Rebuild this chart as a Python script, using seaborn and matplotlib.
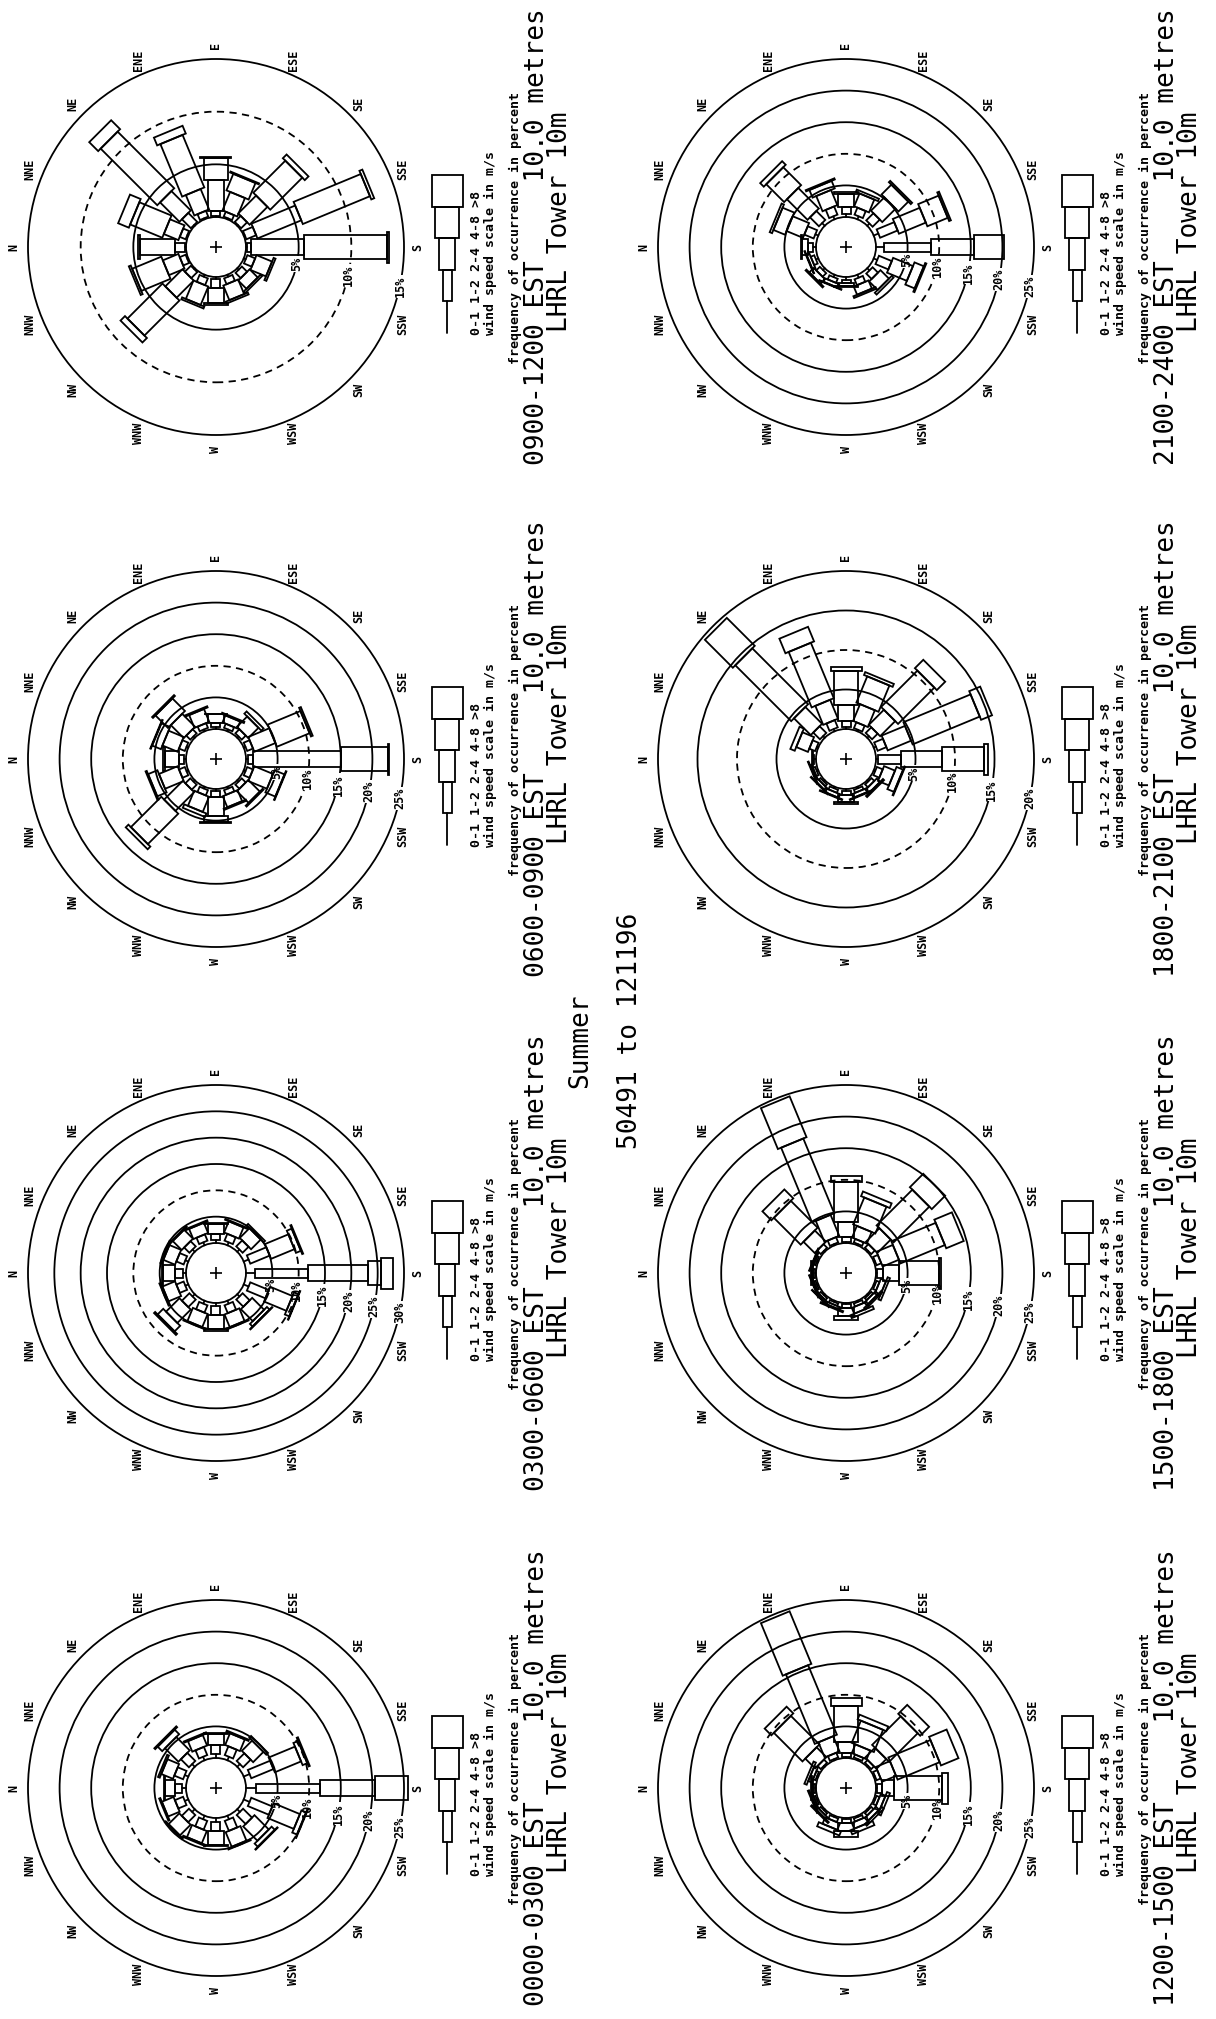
import numpy as np
import matplotlib
matplotlib.use("Agg")
import matplotlib.pyplot as plt
import seaborn as sns
from matplotlib.patches import Rectangle, Circle
from matplotlib.transforms import Affine2D

# ---- data -------------------------------------------------------------
DIRECTIONS = ["N", "NNE", "NE", "ENE", "E", "ESE", "SE", "SSE",
              "S", "SSW", "SW", "WSW", "W", "WNW", "NW", "NNW"]
BEARINGS = [0.0, 22.5, 45.0, 67.5, 90.0, 112.5, 135.0, 157.5,
            180.0, 202.5, 225.0, 247.5, 270.0, 292.5, 315.0, 337.5]
SPEED_CLASSES = ["0-1", "1-2", "2-4", "4-8", ">8"]

# frequency of occurrence (%) per direction, one row per speed class (m/s)
F_0000_0300 = [
    [0.6, 0.6, 0.6, 0.6, 0.6, 0.6, 0.6, 1.0, 1.6, 1.0, 0.6, 0.6, 0.6, 0.6, 0.6, 0.6],
    [1.2, 1.5, 1.8, 1.4, 1.4, 1.5, 1.7, 3.8, 10.1, 3.6, 2.0, 1.7, 1.5, 1.5, 1.6, 1.4],
    [1.5, 2.0, 3.0, 1.8, 1.8, 2.0, 2.3, 4.5, 8.7, 4.5, 3.2, 2.5, 2.1, 2.1, 2.4, 2.0],
    [0.2, 0.3, 1.0, 0.2, 0.2, 0.2, 0.4, 0.8, 5.2, 0.8, 0.7, 0.2, 0.2, 0.2, 0.2, 0.2],
    [0.0, 0.0, 0.2, 0.0, 0.0, 0.0, 0.0, 0.2, 0.0, 0.1, 0.1, 0.0, 0.0, 0.0, 0.0, 0.0],
]
F_0300_0600 = [
    [0.6, 0.6, 0.6, 0.6, 0.6, 0.6, 0.6, 1.0, 1.7, 1.0, 0.6, 0.6, 0.6, 0.6, 0.6, 0.6],
    [1.4, 1.5, 1.4, 1.3, 1.2, 1.4, 1.6, 4.0, 10.1, 3.8, 1.9, 1.6, 1.6, 1.5, 2.0, 1.5],
    [2.3, 2.4, 2.4, 2.1, 1.9, 2.3, 2.6, 4.8, 11.3, 4.6, 3.2, 2.6, 2.8, 2.7, 3.6, 2.6],
    [0.2, 0.3, 0.2, 0.2, 0.1, 0.2, 0.4, 1.0, 2.5, 0.9, 0.7, 0.2, 0.3, 0.2, 1.5, 0.3],
    [0.0, 0.0, 0.0, 0.0, 0.0, 0.0, 0.0, 0.2, 2.3, 0.1, 0.1, 0.0, 0.0, 0.0, 0.3, 0.0],
]
F_0600_0900 = [
    [0.3, 0.3, 0.3, 0.3, 0.3, 0.3, 0.3, 0.3, 0.3, 0.3, 0.3, 0.3, 0.3, 0.3, 0.3, 0.3],
    [0.8, 1.0, 0.9, 0.8, 0.7, 0.7, 0.9, 1.0, 0.8, 1.0, 0.9, 0.8, 1.0, 0.9, 1.1, 1.0],
    [2.3, 2.6, 2.9, 2.2, 1.3, 1.2, 2.3, 3.6, 13.9, 3.2, 2.6, 1.9, 3.0, 2.6, 4.2, 3.2],
    [0.2, 1.5, 2.8, 0.2, 0.1, 0.2, 0.5, 5.6, 7.4, 1.7, 0.2, 0.2, 1.0, 0.6, 6.8, 1.6],
    [0.0, 0.1, 0.2, 0.0, 0.0, 0.0, 0.0, 0.3, 0.2, 0.1, 0.0, 0.0, 0.1, 0.0, 0.6, 0.2],
]
F_0900_1200 = [
    [0.1, 0.1, 0.1, 0.1, 0.1, 0.1, 0.1, 0.1, 0.1, 0.2, 0.2, 0.2, 0.2, 0.2, 0.1, 0.1],
    [0.9, 0.6, 1.2, 0.6, 0.5, 0.5, 0.8, 1.0, 0.4, 0.8, 0.7, 0.6, 0.8, 0.7, 0.8, 0.6],
    [3.4, 1.5, 2.6, 2.1, 2.9, 1.9, 2.4, 4.5, 5.0, 1.6, 1.1, 1.5, 1.5, 1.9, 2.3, 1.6],
    [0.2, 3.3, 7.6, 5.4, 2.1, 1.7, 4.3, 6.9, 7.9, 0.2, 0.2, 0.2, 0.2, 0.2, 4.7, 3.0],
    [0.0, 1.1, 1.2, 0.8, 0.1, 0.1, 0.5, 0.3, 0.2, 0.0, 0.0, 0.0, 0.0, 0.0, 0.6, 0.2],
]
F_1200_1500 = [
    [0.2, 0.2, 0.2, 0.2, 0.2, 0.2, 0.2, 0.2, 0.2, 0.2, 0.2, 0.2, 0.2, 0.2, 0.2, 0.2],
    [0.3, 0.4, 0.7, 0.8, 0.6, 0.5, 0.6, 0.7, 0.8, 0.5, 0.5, 0.5, 0.6, 0.6, 0.4, 0.3],
    [0.2, 0.6, 2.2, 2.6, 1.8, 1.5, 2.2, 2.4, 1.8, 0.8, 0.7, 1.0, 1.3, 1.1, 0.4, 0.3],
    [0.1, 0.4, 6.4, 11.9, 5.6, 3.8, 6.4, 7.2, 7.6, 0.5, 0.4, 0.7, 0.9, 0.7, 0.2, 0.2],
    [0.0, 0.0, 1.5, 9.0, 1.3, 0.8, 2.0, 3.0, 1.0, 0.0, 0.0, 0.0, 0.0, 0.0, 0.0, 0.0],
]
F_1500_1800 = [
    [0.2, 0.2, 0.2, 0.2, 0.2, 0.2, 0.2, 0.2, 0.2, 0.2, 0.2, 0.2, 0.2, 0.2, 0.2, 0.2],
    [0.3, 0.3, 0.8, 0.9, 0.7, 0.6, 0.8, 0.8, 0.9, 0.5, 0.4, 0.5, 0.6, 0.4, 0.4, 0.3],
    [0.2, 0.2, 2.5, 3.6, 2.5, 2.0, 3.0, 2.8, 2.6, 0.9, 0.6, 1.0, 1.3, 0.4, 0.3, 0.2],
    [0.1, 0.1, 6.0, 12.8, 6.2, 4.6, 8.0, 7.6, 6.2, 0.4, 0.3, 0.5, 0.6, 0.2, 0.1, 0.1],
    [0.0, 0.0, 2.0, 7.0, 1.0, 0.8, 3.0, 3.0, 0.4, 0.0, 0.0, 0.0, 0.0, 0.0, 0.0, 0.0],
]
F_1800_2100 = [
    [0.2, 0.2, 0.3, 0.3, 0.2, 0.2, 0.3, 0.3, 0.3, 0.2, 0.2, 0.2, 0.2, 0.2, 0.2, 0.2],
    [0.2, 0.8, 1.2, 1.0, 0.8, 0.8, 1.0, 1.2, 2.9, 0.8, 0.5, 0.4, 0.6, 0.4, 0.3, 0.3],
    [0.1, 1.6, 3.0, 2.6, 2.0, 2.3, 2.7, 3.2, 5.1, 1.5, 0.6, 0.5, 0.9, 0.5, 0.4, 0.2],
    [0.0, 0.6, 10.0, 7.6, 4.4, 3.6, 6.5, 9.2, 5.4, 0.9, 0.2, 0.1, 0.2, 0.1, 0.1, 0.1],
    [0.0, 0.0, 5.0, 2.0, 0.4, 0.4, 1.5, 1.5, 0.5, 0.1, 0.0, 0.0, 0.0, 0.0, 0.0, 0.0],
]
F_2100_2400 = [
    [0.4, 0.5, 0.6, 0.5, 0.5, 0.5, 0.5, 0.8, 1.3, 0.6, 0.5, 0.5, 0.4, 0.4, 0.4, 0.4],
    [0.8, 1.6, 2.0, 1.4, 1.1, 1.2, 1.6, 3.0, 7.4, 2.2, 1.2, 1.0, 0.6, 0.7, 0.8, 0.6],
    [1.0, 2.8, 4.6, 2.6, 2.0, 2.2, 3.0, 4.6, 6.8, 3.4, 1.9, 1.4, 0.5, 0.6, 1.0, 0.5],
    [0.2, 2.0, 4.0, 1.3, 0.4, 0.4, 2.2, 3.5, 4.7, 1.6, 0.4, 0.3, 0.1, 0.1, 0.2, 0.1],
    [0.0, 0.4, 0.8, 0.2, 0.0, 0.0, 0.3, 0.3, 0.0, 0.2, 0.0, 0.0, 0.0, 0.0, 0.0, 0.0],
]

# outermost ring (%) of each rose
RING_MAX = {"0000-0300": 25, "0300-0600": 30, "0600-0900": 25, "0900-1200": 15,
            "1200-1500": 25, "1500-1800": 25, "1800-2100": 20, "2100-2400": 25}

SEASON = "Summer"
DATE_RANGE = "50491 to 121196"
HEIGHT_TEXT = "10.0 metres"
STATION = "LHRL Tower 10m"

# ---- layout (pixels, page is turned 90 degrees) -----------------------
FIG_W, FIG_H = 1216, 2019
COL_X = [216, 846]
ROW_Y = [247, 759, 1273, 1788]
PANELS = [("0900-1200", F_0900_1200, 0, 0), ("0600-0900", F_0600_0900, 0, 1),
          ("0300-0600", F_0300_0600, 0, 2), ("0000-0300", F_0000_0300, 0, 3),
          ("2100-2400", F_2100_2400, 1, 0), ("1800-2100", F_1800_2100, 1, 1),
          ("1500-1800", F_1500_1800, 1, 2), ("1200-1500", F_1200_1500, 1, 3)]

R_OUT = 188      # outer ring radius px
R_CALM = 30      # calm circle radius px
R_LABEL = 202    # compass label radius px
BOX = 228        # half size of each rose axes px
BAR_PX = [0, 9, 16, 24, 31]
LEGEND_SEG_PX = 31.6
LABEL_BEARING = 192.0
LW = 1.3
INK = "black"

sns.set_style("white")
plt.rcParams["font.family"] = ["DejaVu Sans Mono", "DejaVu Sans"]

fig = plt.figure(figsize=(FIG_W / 100, FIG_H / 100), dpi=100)
fig.patch.set_facecolor("white")


def px_axes(cx, cy, hw, hh):
    return fig.add_axes([(cx - hw) / FIG_W, 1 - (cy + hh) / FIG_H,
                         2 * hw / FIG_W, 2 * hh / FIG_H])


def ftext(x, y, s, size, weight="normal"):
    fig.text(x / FIG_W, 1 - y / FIG_H, s, rotation=90, ha="center", va="center",
             fontsize=size, fontweight=weight, color=INK)


def draw_rose(period, freqs, cx, cy):
    ring_max = RING_MAX[period]
    s = (R_OUT - R_CALM) / ring_max          # px per percent
    calm = R_CALM / s
    ax = px_axes(cx, cy, BOX, BOX)
    ax.set_facecolor("none")

    for pct in range(5, ring_max + 1, 5):
        ls = (0, (4, 3)) if pct == 10 else "-"
        ax.add_patch(Circle((0, 0), calm + pct, fill=False, ec=INK, lw=LW, ls=ls, zorder=1))
        tr = Affine2D().rotate_deg(180 - LABEL_BEARING) + ax.transData
        ax.text(calm + pct, 0, f"{pct}%", transform=tr, rotation=90, ha="center",
                va="center", fontsize=8.5, fontweight="bold", color=INK, zorder=2,
                bbox=dict(fc="white", ec="none", pad=0.6))

    ax.add_patch(Circle((0, 0), calm, fill=False, ec=INK, lw=LW, zorder=4))
    ax.plot([0], [0], marker="+", color=INK, ms=8, mew=1.2, zorder=4)

    for i, b in enumerate(BEARINGS):
        tr = Affine2D().rotate_deg(180 - b) + ax.transData
        r0 = calm
        for k in range(len(SPEED_CLASSES)):
            v = freqs[k][i]
            if v <= 0:
                continue
            if k == 0:
                ax.plot([r0, r0 + v], [0, 0], color=INK, lw=LW, transform=tr, zorder=3)
            else:
                w = BAR_PX[k] / s
                ax.add_patch(Rectangle((r0, -w / 2), v, w, transform=tr, fill=False,
                                       ec=INK, lw=LW, zorder=3))
            r0 += v
        ax.text(R_LABEL / s, 0, DIRECTIONS[i], transform=tr, rotation=90, ha="center",
                va="center", fontsize=8.5, fontweight="bold", color=INK)

    lim = BOX / s
    ax.set_xlim(-lim, lim)
    ax.set_ylim(-lim, lim)
    ax.set_aspect("equal")
    ax.axis("off")

    # speed-scale legend
    lax = px_axes(cx + 231, cy, 20, 95)
    lax.set_facecolor("none")
    ltr = Affine2D().rotate_deg(90) + lax.transData
    r0 = -86
    for k in range(len(SPEED_CLASSES)):
        if k == 0:
            lax.plot([r0, r0 + LEGEND_SEG_PX], [0, 0], color=INK, lw=LW, transform=ltr)
        else:
            lax.add_patch(Rectangle((r0, -BAR_PX[k] / 2), LEGEND_SEG_PX, BAR_PX[k],
                                    transform=ltr, fill=False, ec=INK, lw=LW))
        r0 += LEGEND_SEG_PX
    lax.set_xlim(-20, 20)
    lax.set_ylim(-95, 95)
    lax.axis("off")

    ftext(cx + 261, cy + 16, " ".join(SPEED_CLASSES), 9.5, "bold")
    ftext(cx + 274, cy - 4, "wind speed scale in m/s", 9.5, "bold")
    ftext(cx + 299, cy - 19, "frequency of occurrence in percent", 9.5, "bold")
    ftext(cx + 321, cy - 10, f"{period} EST     {HEIGHT_TEXT}", 18.8)
    ftext(cx + 344, cy - 25, STATION, 18.8)


for period, freqs, col, row in PANELS:
    draw_rose(period, freqs, COL_X[col], ROW_Y[row])

ftext(580, 1041, SEASON, 18.8)
ftext(630, 1031, DATE_RANGE, 18.8)

fig.savefig("out.png", dpi=100, facecolor="white")
